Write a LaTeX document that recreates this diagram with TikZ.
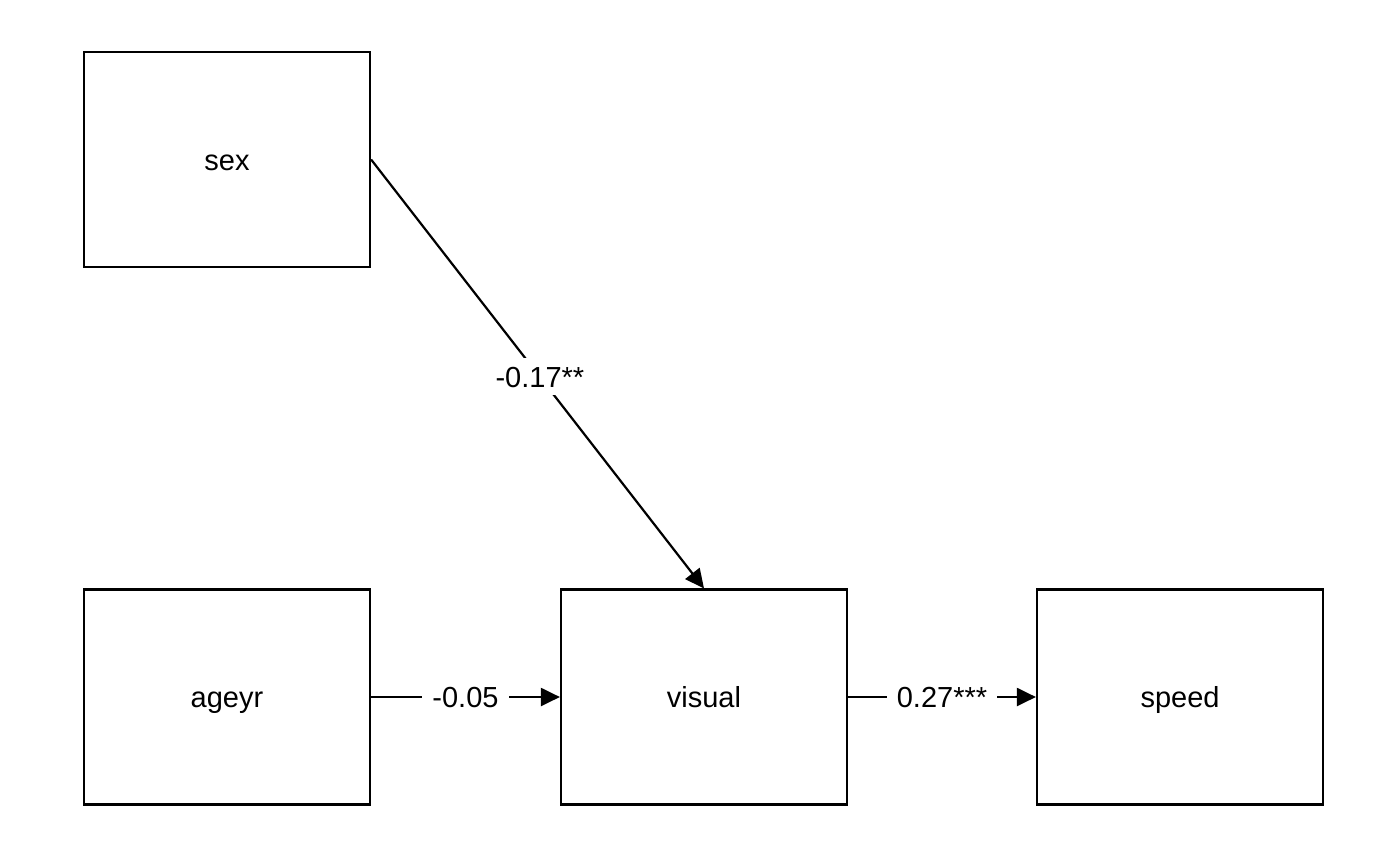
\documentclass[tikz,border=0pt]{standalone}
\usepackage{fontspec}
\setmainfont{Liberation Sans}
\usetikzlibrary{arrows.meta}
\begin{document}
\begin{tikzpicture}[x=1pt,y=-1pt,
  var/.style={draw, line width=2.2pt, minimum width=286pt, minimum height=215pt, inner sep=0pt, text height=21pt, text depth=0pt, font=\fontsize{29}{34}\selectfont},
  path/.style={line width=2.2pt, -{Triangle[length=19pt,width=18pt]}},
  lab/.style={fill=white, inner sep=10pt, text height=21pt, text depth=0pt, font=\fontsize{29}{34}\selectfont}]
\useasboundingbox (0,0) rectangle (1400,865);
\node[var] (sex) at (227,159.5) {sex};
\node[var] (ageyr) at (227,697) {ageyr};
\node[var] (visual) at (704,697) {visual};
\node[var] (speed) at (1180,697) {speed};
\draw[path] (sex.east) -- (visual.north) node[lab, pos=0.507, inner sep=8pt] {-0.17**};
\draw[path] (ageyr.east) -- (visual.west) node[lab, pos=0.5] {-0.05};
\draw[path] (visual.east) -- (speed.west) node[lab, pos=0.5] {0.27***};
\end{tikzpicture}
\end{document}
